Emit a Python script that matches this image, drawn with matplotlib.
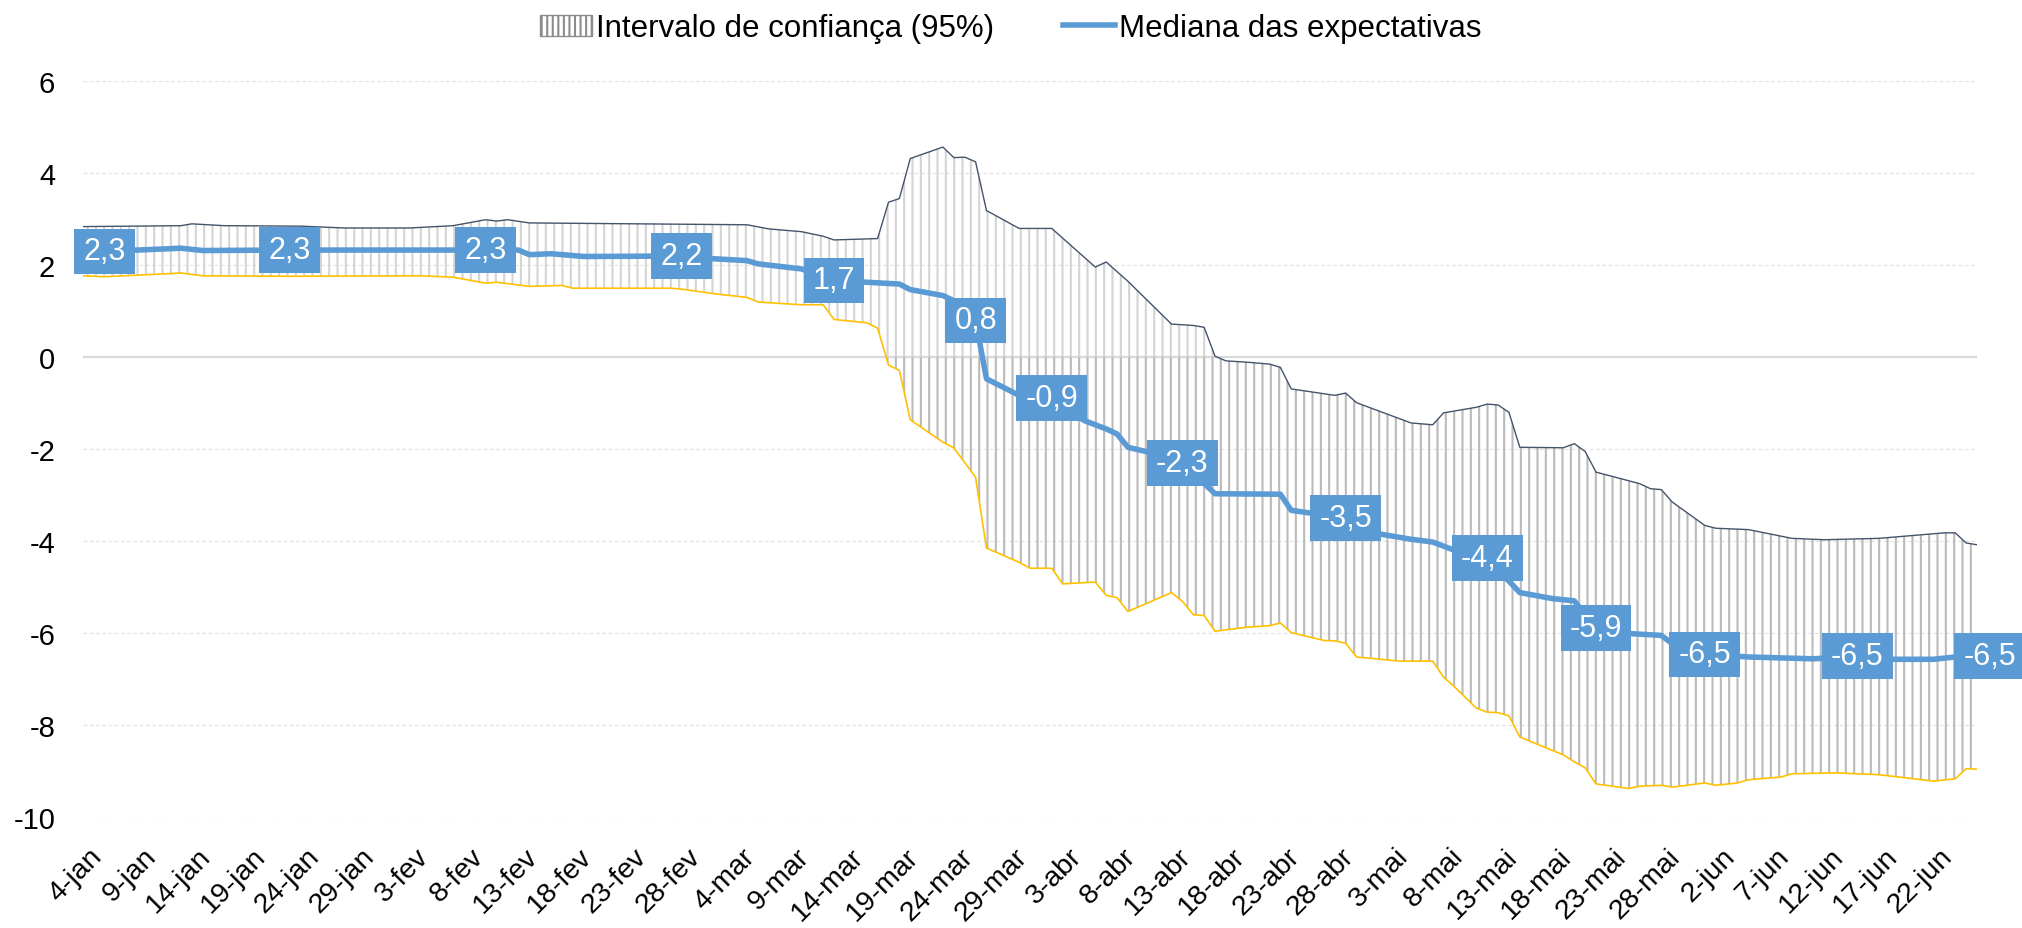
import matplotlib
matplotlib.use("Agg")
import matplotlib.pyplot as plt
import numpy as np
from matplotlib.patches import Polygon, Rectangle, Patch
from matplotlib.lines import Line2D
from matplotlib.path import Path

plt.rcParams['font.family'] = ['Liberation Sans', 'DejaVu Sans']
plt.rcParams['axes.unicode_minus'] = False
plt.rcParams['hatch.linewidth'] = 1.5

# x = days since 4-jan-2020
upper_days = [0, 9, 10, 13, 20, 24, 30, 34, 37, 38, 39, 41, 61, 63, 66, 68, 69, 73, 74, 75, 76,
              79, 80, 81, 82, 83, 86, 89, 93, 94, 95, 96, 100, 102, 103, 104, 105, 107, 109, 110,
              111, 115, 116, 117, 122, 124, 125, 128, 129, 130, 131, 132, 136, 137, 138, 139, 143,
              144, 145, 146, 149, 150, 153, 157, 160, 165, 171, 172, 173, 174]
upper_vals = [2.84, 2.86, 2.90, 2.86, 2.85, 2.81, 2.81, 2.86, 2.99, 2.96, 2.99, 2.92, 2.88, 2.79,
              2.73, 2.63, 2.55, 2.58, 3.37, 3.45, 4.32, 4.57, 4.34, 4.35, 4.25, 3.19, 2.80, 2.80,
              1.96, 2.07, 1.86, 1.65, 0.72, 0.69, 0.65, 0.02, -0.08, -0.11, -0.15, -0.22, -0.69,
              -0.83, -0.78, -0.99, -1.43, -1.47, -1.21, -1.09, -1.02, -1.04, -1.20, -1.96, -1.97,
              -1.88, -2.05, -2.50, -2.75, -2.86, -2.88, -3.15, -3.66, -3.72, -3.75, -3.94, -3.97,
              -3.94, -3.82, -3.82, -4.04, -4.08]

lower_days = [0, 2, 9, 11, 19, 31, 34, 37, 38, 41, 44, 45, 54, 55, 58, 61, 62, 66, 68, 69, 72, 73,
              74, 75, 76, 79, 80, 82, 83, 86, 87, 89, 90, 93, 94, 95, 96, 100, 101, 102, 103, 104,
              107, 109, 110, 111, 114, 115, 116, 117, 121, 124, 125, 126, 128, 129, 130, 131, 132,
              136, 137, 138, 139, 142, 143, 145, 146, 149, 150, 152, 153, 156, 157, 161, 165, 170,
              172, 173, 174]
lower_vals = [1.77, 1.75, 1.83, 1.77, 1.76, 1.77, 1.74, 1.61, 1.63, 1.54, 1.56, 1.50, 1.50, 1.48,
              1.38, 1.30, 1.20, 1.14, 1.14, 0.82, 0.75, 0.63, -0.17, -0.29, -1.36, -1.85, -1.97,
              -2.61, -4.15, -4.46, -4.59, -4.59, -4.93, -4.89, -5.18, -5.23, -5.53, -5.12, -5.31,
              -5.60, -5.62, -5.96, -5.87, -5.84, -5.78, -5.99, -6.16, -6.17, -6.22, -6.52, -6.61,
              -6.61, -6.96, -7.17, -7.63, -7.72, -7.73, -7.80, -8.26, -8.65, -8.80, -8.93, -9.28,
              -9.38, -9.33, -9.31, -9.35, -9.26, -9.31, -9.26, -9.19, -9.13, -9.06, -9.04, -9.08,
              -9.22, -9.17, -8.95, -8.96]

median_days = [0, 2, 9, 11, 19, 37, 40, 41, 43, 46, 55, 58, 61, 62, 66, 69, 72, 75, 76, 79, 80,
               82, 83, 86, 89, 92, 94, 95, 96, 98, 101, 104, 110, 111, 116, 119, 122, 124, 126,
               129, 132, 135, 137, 139, 142, 145, 146, 149, 153, 159, 163, 166, 170, 172, 174]
median_vals = [2.30, 2.30, 2.37, 2.32, 2.33, 2.33, 2.33, 2.23, 2.25, 2.19, 2.20, 2.14, 2.10, 2.03,
               1.92, 1.67, 1.63, 1.59, 1.47, 1.34, 1.23, 0.80, -0.47, -0.83, -0.89, -1.38, -1.56,
               -1.67, -1.96, -2.07, -2.30, -2.97, -2.98, -3.33, -3.50, -3.84, -3.96, -4.02, -4.20,
               -4.37, -5.12, -5.25, -5.30, -5.89, -6.01, -6.05, -6.23, -6.46, -6.52, -6.56, -6.50,
               -6.57, -6.57, -6.52, -6.50]

label_days = [2, 19, 37, 55, 69, 82, 89, 101, 116, 129, 139, 149, 163, 174]

tick_days = list(range(0, 171, 5))
tick_labels = ['4-jan', '9-jan', '14-jan', '19-jan', '24-jan', '29-jan', '3-fev', '8-fev',
               '13-fev', '18-fev', '23-fev', '28-fev', '4-mar', '9-mar', '14-mar', '19-mar',
               '24-mar', '29-mar', '3-abr', '8-abr', '13-abr', '18-abr', '23-abr', '28-abr',
               '3-mai', '8-mai', '13-mai', '18-mai', '23-mai', '28-mai', '2-jun', '7-jun',
               '12-jun', '17-jun', '22-jun']

BLUE = '#5b9bd5'
W, H = 2022, 929
fig = plt.figure(figsize=(W / 100, H / 100), dpi=100)
ax = fig.add_axes([83 / W, 1 - 818 / H, (1977 - 83) / W, (818 - 82.3) / H])
x_end = upper_days[-1]
ax.set_xlim(0, x_end)
ax.set_ylim(-10, 6)

# grid
for y in range(-10, 7, 2):
    if y != 0:
        ax.axhline(y, color='#e3e3e3', lw=0.9, ls=(0, (3, 2)), zorder=0)
ax.axhline(0, color='#d9d9d9', lw=1.6, zorder=1)

# confidence band polygon, split at zero into two hatch shades
poly_xy = np.column_stack([np.r_[upper_days, lower_days[::-1]],
                           np.r_[upper_vals, lower_vals[::-1]]])
for (y0, y1), col in [((0, 6), '#d4d4d4'), ((-10, 0), '#bababa')]:
    p = Polygon(poly_xy, closed=True, facecolor='none', edgecolor=col, lw=0,
                hatch='||', zorder=2)
    ax.add_patch(p)
    clip = Rectangle((0, y0), x_end, y1 - y0, transform=ax.transData)
    p.set_clip_path(clip)

ax.plot(upper_days, upper_vals, color='#44546a', lw=1.0, zorder=3)
ax.plot(lower_days, lower_vals, color='#ffc000', lw=1.2, zorder=3)
ax.plot(median_days, median_vals, color=BLUE, lw=4.0, zorder=4,
        solid_joinstyle='round', solid_capstyle='butt')


def label_box(x0, y0, width, height, mutation_size):
    px = 0.30 * mutation_size
    py = 0.25 * mutation_size
    verts = [(x0 - px, y0 - py), (x0 + width + px, y0 - py),
             (x0 + width + px, y0 + height + py), (x0 - px, y0 + height + py),
             (x0 - px, y0 - py)]
    return Path(verts, closed=True)


for i, d in enumerate(label_days):
    v = median_vals[median_days.index(d)]
    txt = f"{v:.1f}".replace('.', ',')
    dx = 9 if i == len(label_days) - 1 else 0
    ax.annotate(txt, (d, v), xytext=(dx, 0), textcoords='offset points',
                ha='center', va='center', color='white', fontsize=22,
                bbox=dict(boxstyle=label_box, fc=BLUE, ec='none'),
                zorder=6, annotation_clip=False)

for s in ax.spines.values():
    s.set_visible(False)

ax.set_yticks(range(-10, 7, 2))
ax.set_yticklabels([str(v) for v in range(-10, 7, 2)])
ax.tick_params(axis='y', length=0, labelsize=21, pad=20, labelcolor='#000000')

# category (date) axis labels, rotated 45 degrees, ending at each tick
ax.set_xticks(tick_days)
ax.set_xticklabels([])
ax.tick_params(axis='x', length=0)
for d, lab in zip(tick_days, tick_labels):
    ax.annotate(lab, xy=(d, 0), xycoords=ax.get_xaxis_transform(),
                xytext=(4.3, -18.7), textcoords='offset points',
                rotation=45, rotation_mode='anchor', ha='right', va='top',
                fontsize=20.5, color='#000000', annotation_clip=False)

handles = [Patch(facecolor='white', edgecolor='#8c8c8c', hatch='|||', lw=1.0),
           Line2D([], [], color=BLUE, lw=4.0)]
fig.legend(handles, ['Intervalo de confiança (95%)', 'Mediana das expectativas'],
           loc='upper center', bbox_to_anchor=(0.5, 1.015), ncol=2, frameon=False,
           fontsize=22.5, handlelength=1.65, handleheight=0.65, handletextpad=0.15,
           columnspacing=2.2)

fig.savefig('out.png', dpi=100)
